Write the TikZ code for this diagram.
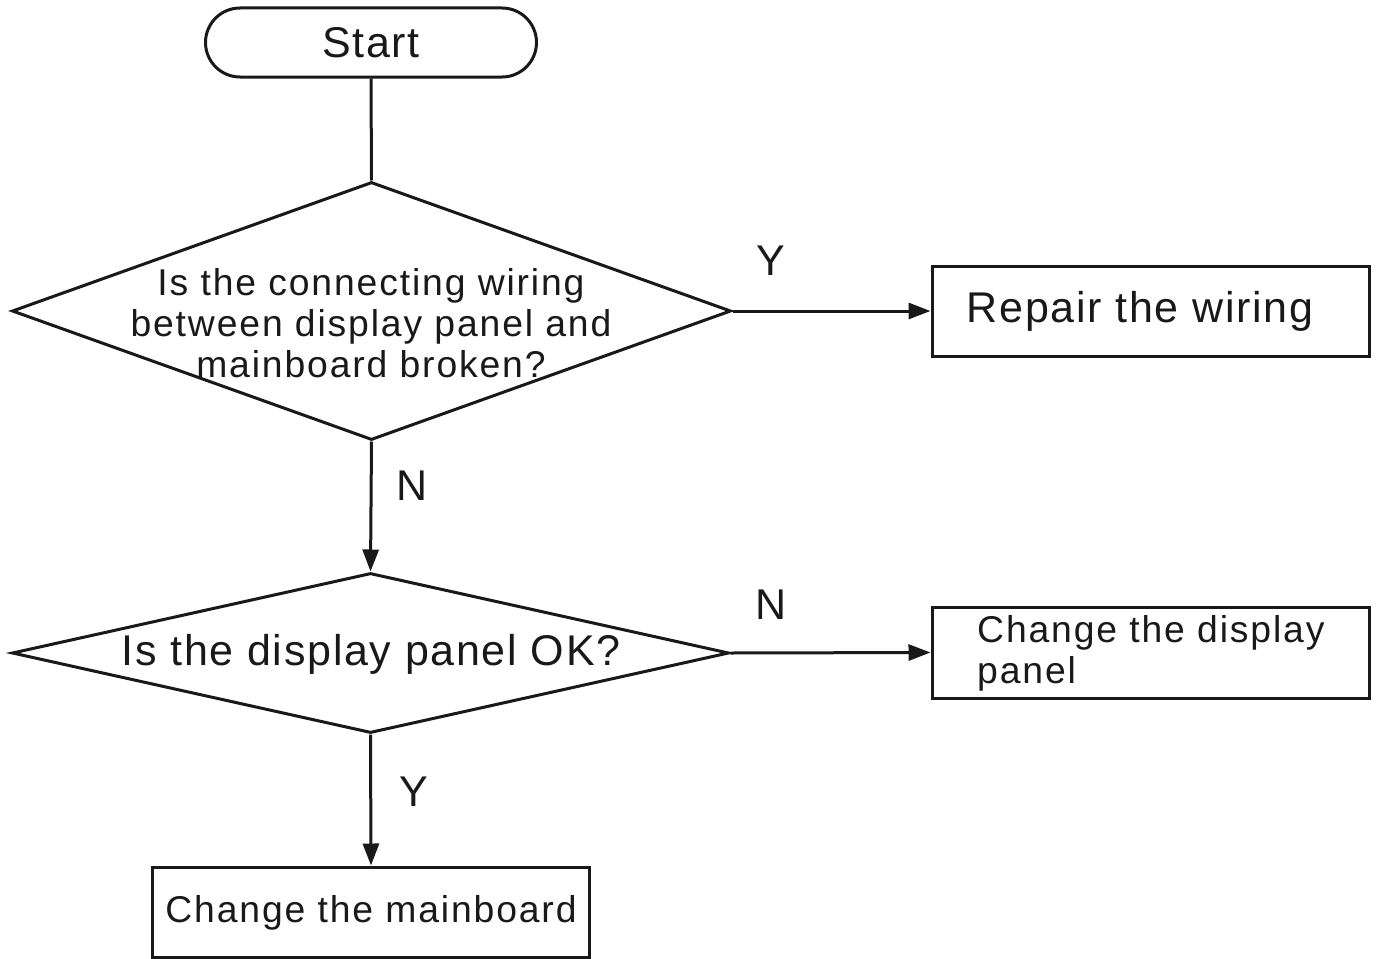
\documentclass[tikz,border=0pt]{standalone}
\usepackage{fontspec}
\setmainfont{Liberation Sans}
\newfontfamily\fsmall[LetterSpace=5]{Liberation Sans}
\newfontfamily\flarge[LetterSpace=4]{Liberation Sans}
\usetikzlibrary{shapes.geometric,shapes.misc,arrows.meta}
\tikzset{
  ln/.style={line width=3pt, draw=black!90},
  arr/.style={ln, -{Triangle[length=22pt,width=16pt]}},
  boxnode/.style={ln, rectangle, minimum width=437pt, minimum height=90pt, inner sep=0pt},
  decide/.style={ln, diamond, inner sep=0pt},
  txtS/.style={font=\fsmall\fontsize{37.3}{41}\selectfont, text=black!90, align=center, inner sep=0pt},
  txtL/.style={font=\flarge\fontsize{43}{45}\selectfont, text=black!90, align=center, inner sep=0pt},
}
\begin{document}
\begin{tikzpicture}[x=1pt,y=-1pt]
\useasboundingbox (0,0) rectangle (1378,958);
% shapes
\node[ln, rounded rectangle, minimum width=331pt, minimum height=69pt, inner sep=0pt] (start) at (371,42.5) {};
\node[txtL, anchor=base] (starttxt) at (371,58) {Start};
\node[decide, minimum width=719pt, minimum height=258pt] (q1) at (371.5,311) {};
\node[txtS] (q1txt) at (371,323.5) {Is the connecting wiring\\between display panel and\\mainboard broken?};
\node[boxnode] (repair) at (1150.5,311) {};
\node[txtL] (repairtxt) at (1140,311.5) {Repair the wiring};
\node[decide, minimum width=717pt, minimum height=160pt] (q2) at (370.5,653) {};
\node[txtL] (q2txt) at (371,654) {Is the display panel OK?};
\node[boxnode, minimum height=91pt] (panel) at (1150.5,652.5) {};
\node[txtS, align=left, anchor=west] (paneltxt) at (977,653) {Change the display\\panel};
\node[boxnode] (mainb) at (371,912) {};
\node[txtS] (mainbtxt) at (371,913) {Change the mainboard};
% connectors
\draw[ln] (start.south) -- (q1.north);
\draw[arr] (q1.east) -- (repair.west);
\draw[arr] (q1.south) -- (q2.north);
\draw[arr] (q2.east) -- (panel.west);
\draw[arr] (q2.south) -- (mainb.north);
% labels
\node[txtL] (ly1) at (771,261) {Y};
\node[txtL] (ln1) at (412,486) {N};
\node[txtL] (ln2) at (771,605) {N};
\node[txtL] (ly2) at (414,792) {Y};
\end{tikzpicture}
\end{document}
